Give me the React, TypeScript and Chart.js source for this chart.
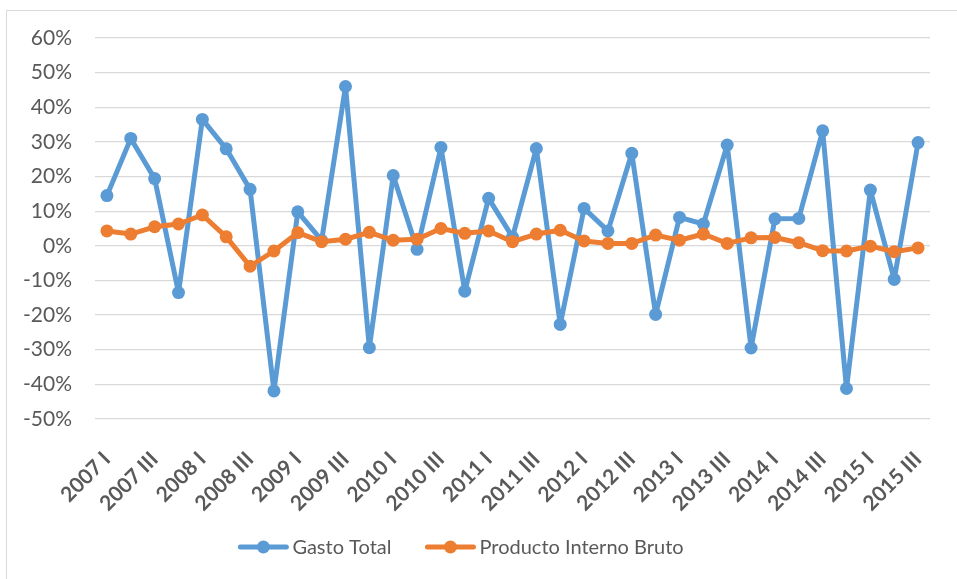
import { useEffect, useRef } from 'react';
import { Chart, registerables } from 'chart.js';

Chart.register(...registerables);

const categories = [
  '2007 I', '2007 II', '2007 III', '2007 IV',
  '2008 I', '2008 II', '2008 III', '2008 IV',
  '2009 I', '2009 II', '2009 III', '2009 IV',
  '2010 I', '2010 II', '2010 III', '2010 IV',
  '2011 I', '2011 II', '2011 III', '2011 IV',
  '2012 I', '2012 II', '2012 III', '2012 IV',
  '2013 I', '2013 II', '2013 III', '2013 IV',
  '2014 I', '2014 II', '2014 III', '2014 IV',
  '2015 I', '2015 II', '2015 III',
];

const gastoTotal = [
  14.5, 31.0, 19.4, -13.5,
  36.5, 28.0, 16.3, -41.9,
  9.8, 1.6, 46.0, -29.4,
  20.3, -1.0, 28.4, -13.1,
  13.7, 2.5, 28.1, -22.7,
  10.8, 4.3, 26.7, -19.8,
  8.2, 6.3, 29.1, -29.5,
  7.8, 7.9, 33.2, -41.2,
  16.1, -9.7, 29.8,
];

const productoInternoBruto = [
  4.3, 3.4, 5.5, 6.3,
  8.9, 2.6, -5.9, -1.5,
  3.8, 1.2, 1.9, 3.9,
  1.6, 1.9, 5.0, 3.6,
  4.3, 1.2, 3.4, 4.5,
  1.4, 0.7, 0.7, 3.1,
  1.6, 3.4, 0.7, 2.3,
  2.4, 0.9, -1.4, -1.5,
  -0.1, -1.7, -0.6,
];

const seriesNames = ['Gasto Total', 'Producto Interno Bruto'];
const seriesColors = ['#5B9BD5', '#ED7D31'];

const Y_MIN = -50;
const Y_MAX = 60;
const Y_STEP = 10;

const FONT = 'Lato, "Open Sans", sans-serif';
const TEXT_COLOR = '#595959';

const legendPlugin = {
  id: 'excelLegend',
  afterDraw(chart: any) {
    const ctx = chart.ctx as CanvasRenderingContext2D;
    const y = 547;
    const lineLen = 50;
    const textGap = 4;
    const itemGap = 34;
    ctx.save();
    ctx.font = `20px ${FONT}`;
    const widths = seriesNames.map((n) => ctx.measureText(n).width);
    const total = widths.reduce((a, w) => a + lineLen + textGap + w, 0) + itemGap * (seriesNames.length - 1);
    let x = 461 - total / 2;
    seriesNames.forEach((name, i) => {
      const c = seriesColors[i];
      ctx.strokeStyle = c;
      ctx.lineWidth = 5;
      ctx.lineCap = 'round';
      ctx.beginPath();
      ctx.moveTo(x + 2, y);
      ctx.lineTo(x + lineLen - 2, y);
      ctx.stroke();
      ctx.fillStyle = c;
      ctx.beginPath();
      ctx.arc(x + lineLen / 2, y, 6.5, 0, Math.PI * 2);
      ctx.fill();
      ctx.fillStyle = TEXT_COLOR;
      ctx.textAlign = 'left';
      ctx.textBaseline = 'middle';
      ctx.fillText(name, x + lineLen + textGap, y + 1);
      x += lineLen + textGap + widths[i] + itemGap;
    });
    ctx.restore();
  },
};

export default function App() {
  const canvasRef = useRef<HTMLCanvasElement | null>(null);

  useEffect(() => {
    if (!canvasRef.current) return;
    const chart = new Chart(canvasRef.current, {
      type: 'line',
      data: {
        labels: categories,
        datasets: [gastoTotal, productoInternoBruto].map((d, i) => ({
          label: seriesNames[i],
          data: d,
          order: 2 - i,
          borderColor: seriesColors[i],
          backgroundColor: seriesColors[i],
          borderWidth: 5,
          borderJoinStyle: 'round' as const,
          borderCapStyle: 'round' as const,
          pointRadius: 6.5,
          pointHoverRadius: 6.5,
          pointBorderWidth: 0,
          pointBackgroundColor: seriesColors[i],
          tension: 0,
          fill: false,
        })),
      },
      options: {
        responsive: false,
        animation: false,
        devicePixelRatio: 1,
        layout: { padding: { left: 0, right: 27, top: 38, bottom: 51 } },
        plugins: {
          tooltip: { enabled: false },
          legend: { display: false },
        },
        scales: {
          x: {
            type: 'category',
            offset: true,
            grid: { display: false },
            border: { display: false },
            afterFit: (s: any) => { s.height = 109; },
            ticks: {
              autoSkip: false,
              maxRotation: 45,
              minRotation: 45,
              color: TEXT_COLOR,
              padding: 20,
              font: { family: FONT, size: 21, weight: 'bold' },
              callback: (_v: any, idx: number) => (idx % 2 === 0 ? categories[idx] : ''),
            },
          },
          y: {
            min: Y_MIN,
            max: Y_MAX,
            afterFit: (s: any) => { s.width = 95; },
            grid: { color: '#d9d9d9', lineWidth: 1.3, drawTicks: false },
            border: { display: false },
            ticks: {
              stepSize: Y_STEP,
              padding: 23,
              color: TEXT_COLOR,
              font: { family: FONT, size: 21 },
              callback: (v: any) => `${v}%`,
            },
          },
        },
      },
      plugins: [legendPlugin],
    });
    return () => chart.destroy();
  }, []);

  return (
    <div style={{ position: 'fixed', left: 0, top: 0, width: 957, height: 579, background: '#fff', overflow: 'hidden' }}>
      <div style={{ position: 'absolute', left: 6, top: 10, width: 960, height: 580, border: '1px solid #d9d9d9', boxSizing: 'border-box' }} />
      <canvas ref={canvasRef} width={957} height={579} style={{ position: 'absolute', left: 0, top: 0, width: 957, height: 579 }} />
    </div>
  );
}
